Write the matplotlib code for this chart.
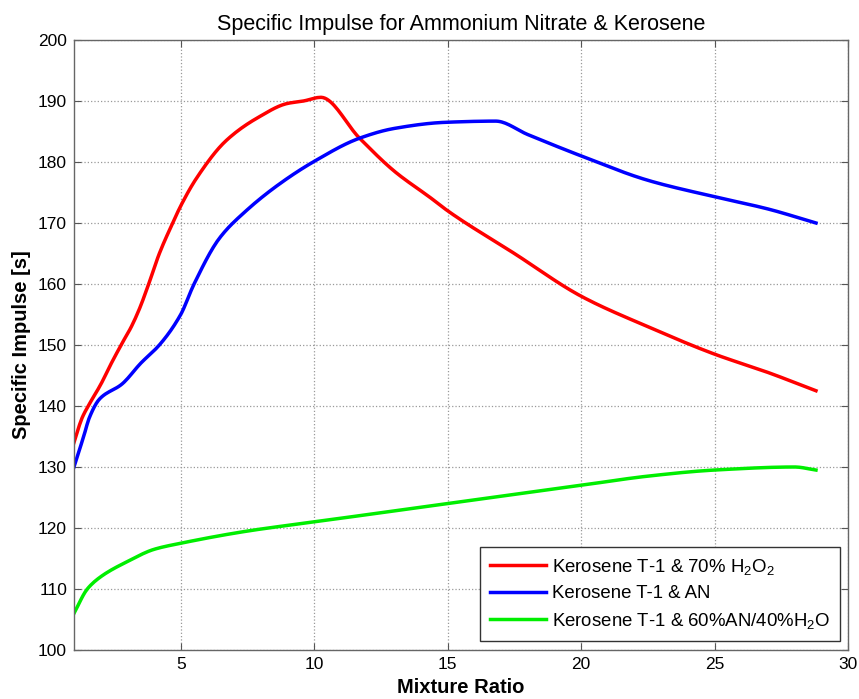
import matplotlib
matplotlib.use('Agg')
import matplotlib.pyplot as plt
import numpy as np

plt.rcParams['font.family'] = ['Liberation Sans', 'DejaVu Sans']
plt.rcParams['mathtext.default'] = 'regular'

# mixture ratio / specific impulse readings for each propellant pair
x_h2o2 = [1.0, 1.3, 1.6, 2.0, 2.4, 2.83, 3.15, 3.46, 3.8, 4.2, 4.7, 5.0, 5.6, 6.7, 7.9, 9.0, 9.6, 10.25,
          11.7, 13.0, 14.4, 15.0, 17.5, 20.0, 22.5, 25.0, 27.0, 28.8]
y_h2o2 = [134, 138, 140.5, 143.5, 147, 150.5, 153, 156, 160, 165, 170, 172.8, 177.4, 183.5, 187.3, 189.6, 190.0, 190.6,
          183.9, 178.5, 174, 172, 165, 158, 153, 148.5, 145.5, 142.5]

x_an = [1.0, 1.22, 1.41, 1.56, 1.97, 2.8, 3.5, 4.2, 5.0, 5.5, 6.45, 7.45, 8.7, 10.0, 11.7, 13.0, 14.9, 16.8,
        18.0, 20.0, 22.5, 25.0, 27.0, 28.8]
y_an = [130, 133, 135.7, 137.9, 141.2, 143.6, 147, 150, 155, 160, 167.5, 172, 176.4, 180.1, 183.9, 185.5, 186.5, 186.7,
        184.5, 181, 177, 174.3, 172.3, 170]

x_an_h2o = [1.0, 1.5, 2.0, 3.0, 4.0, 5.0, 7.5, 10.0, 12.5, 15.0, 17.5, 20.0, 22.5, 25.0, 28.0, 28.8]
y_an_h2o = [106, 110, 112, 114.5, 116.5, 117.5, 119.5, 121, 122.5, 124, 125.5, 127, 128.5, 129.5, 130, 129.5]

labels = ['Kerosene T-1 & 70% H$_2$O$_2$',
          'Kerosene T-1 & AN',
          'Kerosene T-1 & 60%AN/40%H$_2$O']


def smooth(xs, ys, n=400):
    # monotone cubic (Fritsch-Carlson style) through the readings
    xs = np.asarray(xs, float)
    ys = np.asarray(ys, float)
    xf = np.linspace(xs[0], xs[-1], n)
    xf = np.union1d(xf, xs)
    h = np.diff(xs)
    d = np.diff(ys) / h
    m = np.zeros_like(ys)
    m[0], m[-1] = d[0], d[-1]
    for i in range(1, len(xs) - 1):
        if d[i - 1] * d[i] <= 0:
            m[i] = 0
        else:
            w1 = 2 * h[i] + h[i - 1]
            w2 = h[i] + 2 * h[i - 1]
            m[i] = (w1 + w2) / (w1 / d[i - 1] + w2 / d[i])
    idx = np.clip(np.searchsorted(xs, xf, side='right') - 1, 0, len(xs) - 2)
    t = (xf - xs[idx]) / h[idx]
    h00 = 2 * t**3 - 3 * t**2 + 1
    h10 = t**3 - 2 * t**2 + t
    h01 = -2 * t**3 + 3 * t**2
    h11 = t**3 - t**2
    yf = h00 * ys[idx] + h10 * h[idx] * m[idx] + h01 * ys[idx + 1] + h11 * h[idx] * m[idx + 1]
    return xf, yf


fig = plt.figure(figsize=(8.59, 6.99), dpi=100)
ax = fig.add_axes([0.0861, 0.0701, 0.9011, 0.8727])

for xs, ys, col, lab in [(x_h2o2, y_h2o2, '#ff0000', labels[0]),
                         (x_an, y_an, '#0000ff', labels[1]),
                         (x_an_h2o, y_an_h2o, '#00ee00', labels[2])]:
    xf, yf = smooth(xs, ys)
    ax.plot(xf, yf, color=col, lw=2.5, label=lab)

ax.set_xlim(1, 30)
ax.set_ylim(100, 200)
ax.set_xticks([5, 10, 15, 20, 25, 30])
ax.set_yticks(np.arange(100, 201, 10))
ax.grid(True, linestyle=':', color='#999999', linewidth=0.9)
ax.tick_params(direction='in', length=5, labelsize=12.5, colors='#555555', labelcolor='black',
               top=True, right=True, pad=5)
for s in ax.spines.values():
    s.set_color('#666666')
    s.set_linewidth(1.0)

ax.set_title('Specific Impulse for Ammonium Nitrate & Kerosene', fontsize=15.5, pad=7)
ax.set_xlabel('Mixture Ratio', fontsize=14.5, fontweight='bold', labelpad=4)
ax.set_ylabel('Specific Impulse [s]', fontsize=14.5, fontweight='bold', labelpad=5)

leg = ax.legend(loc='lower right', fontsize=13.4, fancybox=False, framealpha=1,
                edgecolor='#333333', handlelength=3.0, handletextpad=0.3, borderpad=0.55,
                labelspacing=0.45, borderaxespad=0, bbox_to_anchor=(0.99, 0.015))
leg.get_frame().set_linewidth(1.0)

fig.savefig('out.png', dpi=100)
